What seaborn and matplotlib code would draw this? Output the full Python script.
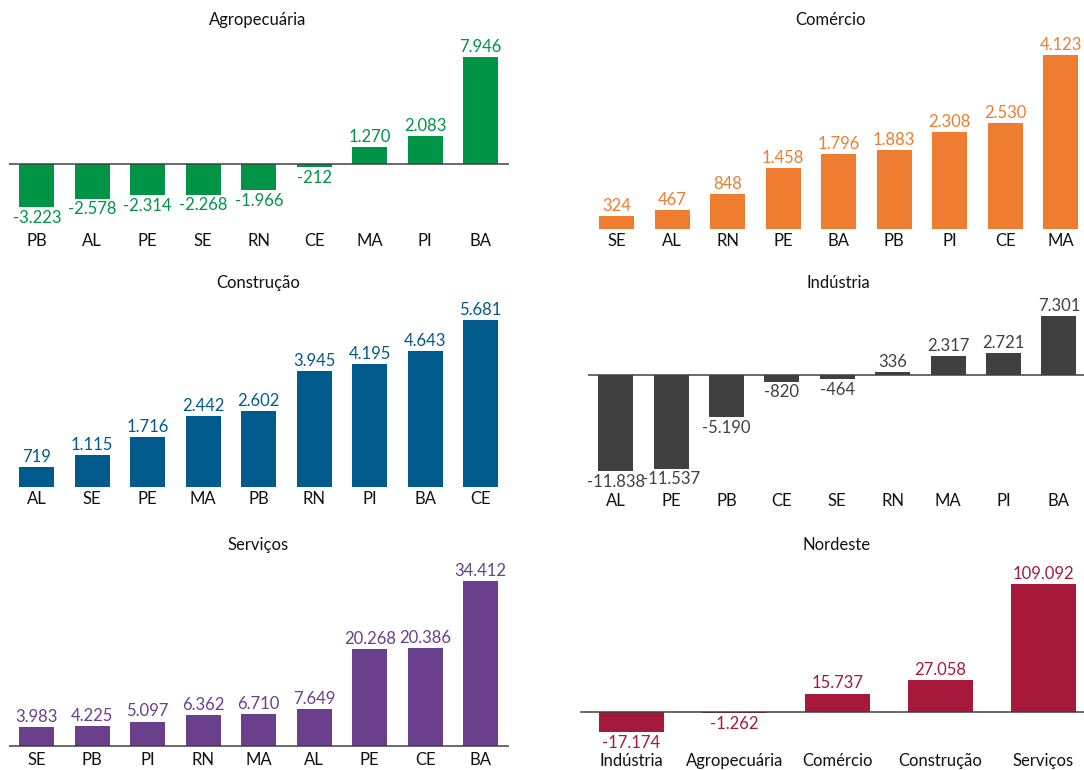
import matplotlib
matplotlib.use("Agg")
import matplotlib.pyplot as plt
import seaborn as sns

sns.set_style("white")
plt.rcParams['font.family'] = ['Lato', 'DejaVu Sans']

# ---- data ----
agro_cats = ["PB", "AL", "PE", "SE", "RN", "CE", "MA", "PI", "BA"]
agro_vals = [-3223, -2578, -2314, -2268, -1966, -212, 1270, 2083, 7946]

com_cats = ["SE", "AL", "RN", "PE", "BA", "PB", "PI", "CE", "MA"]
com_vals = [324, 467, 848, 1458, 1796, 1883, 2308, 2530, 4123]

cons_cats = ["AL", "SE", "PE", "MA", "PB", "RN", "PI", "BA", "CE"]
cons_vals = [719, 1115, 1716, 2442, 2602, 3945, 4195, 4643, 5681]

ind_cats = ["AL", "PE", "PB", "CE", "SE", "RN", "MA", "PI", "BA"]
ind_vals = [-11838, -11537, -5190, -820, -464, 336, 2317, 2721, 7301]

serv_cats = ["SE", "PB", "PI", "RN", "MA", "AL", "PE", "CE", "BA"]
serv_vals = [3983, 4225, 5097, 6362, 6710, 7649, 20268, 20386, 34412]

ne_cats = ["Indústria", "Agropecuária", "Comércio", "Construção", "Serviços"]
ne_vals = [-17174, -1262, 15737, 27058, 109092]

W, H = 1084, 770
fig = plt.figure(figsize=(W / 100, H / 100), dpi=100)


def fmt(v):
    return f"{v:,}".replace(",", ".")


def panel(cats, vals, color, title, x0, x1, t, b, zero, scale, spacing, title_xy,
          label_color=None):
    ax = fig.add_axes([x0 / W, 1 - b / H, (x1 - x0) / W, (b - t) / H])
    sns.barplot(x=cats, y=vals, color=color, saturation=1, width=0.63, ax=ax,
                edgecolor="none")
    ax.set_ylim(-(b - zero) / scale, (zero - t) / scale)
    ax.set_xlim(-0.5, -0.5 + (x1 - x0) / spacing)
    ax.axhline(0, color="#404040", lw=1.1, zorder=3)
    for s in ax.spines.values():
        s.set_visible(False)
    ax.set_yticks([])
    ax.tick_params(axis="x", length=0, pad=3, labelsize=12, labelcolor="#111111")
    ax.set_ylabel("")
    ax.set_xlabel("")
    lc = label_color or color
    for i, v in enumerate(vals):
        if v >= 0:
            ax.annotate(fmt(v), (i, v), xytext=(0, 1.5), textcoords="offset points",
                        ha="center", va="bottom", fontsize=12, color=lc)
        else:
            ax.annotate(fmt(v), (i, v), xytext=(0, -2), textcoords="offset points",
                        ha="center", va="top", fontsize=12, color=lc)
    fig.text(title_xy[0] / W, 1 - title_xy[1] / H, title, ha="center", va="center",
             fontsize=12, color="#111111")
    return ax


# Agropecuária
panel(agro_cats, agro_vals, "#009447", "Agropecuária", 9, 509, 40, 229,
      164, 107 / 7946, 55.5, (258, 20))
# Comércio
panel(com_cats, com_vals, "#EE7D31", "Comércio", 589, 1084, 40, 229,
      230, 175 / 4123, 55.5, (831, 20))
# Construção
panel(cons_cats, cons_vals, "#005A8B", "Construção", 9, 509, 300, 487,
      488, 168 / 5681, 55.5, (258, 283))
# Indústria
panel(ind_cats, ind_vals, "#404040", "Indústria", 588, 1084, 300, 489,
      375, 96 / 11838, 55.4, (838, 283))
# Serviços
panel(serv_cats, serv_vals, "#6A3F8B", "Serviços", 9, 509, 565, 748,
      746, 165 / 34412, 55.5, (258, 545))
# Nordeste
panel(ne_cats, ne_vals, "#A6193A", "Nordeste", 580, 1084, 565, 749,
      712, 128 / 109092, 103, (837, 545))

fig.savefig("out.png", dpi=100, facecolor="white")
